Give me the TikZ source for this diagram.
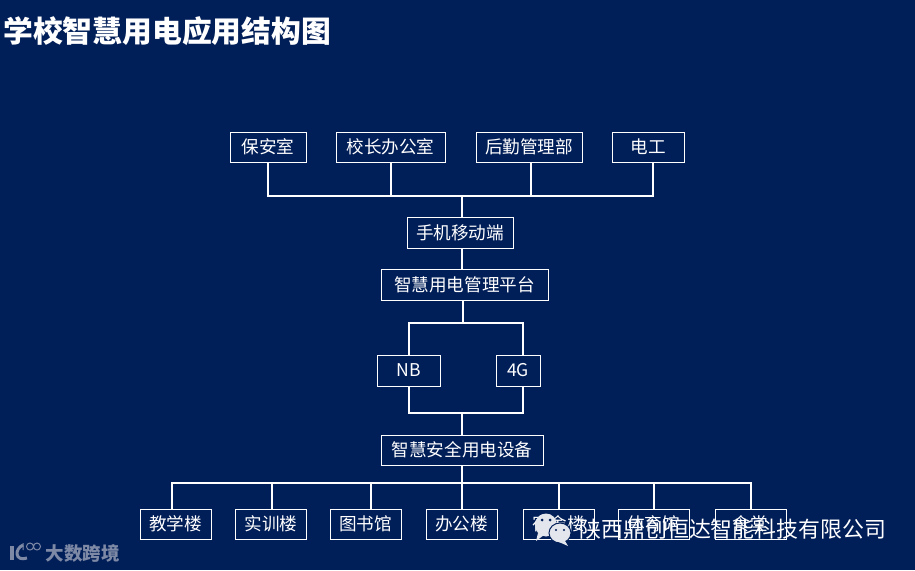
\documentclass[tikz,border=0pt]{standalone}
\usepackage{fontspec}
\usepackage{xcolor}
\usetikzlibrary{positioning,calc}
\setmainfont{Noto Sans CJK SC}
\definecolor{schoolNavy}{RGB}{0,30,88}
\definecolor{markGrey}{RGB}{125,137,165}
\definecolor{bubbleGrey}{RGB}{228,230,238}

\begin{document}
\begin{tikzpicture}[
    x=1pt,
    y=-1pt,
    every node/.style={text=white, font=\fontsize{17.6}{20}\selectfont},
    unitBox/.style={
        rectangle,
        draw=white,
        line width=0.9pt,
        inner sep=0pt,
        minimum height=30pt,
        align=center
    },
    wire/.style={draw=white, line width=1.7pt}
]
    \fill[schoolNavy] (0,0) rectangle (915,570);
    \useasboundingbox (0,0) rectangle (915,570);

    \node[anchor=west, inner sep=0pt, font=\fontsize{29.8}{32}\selectfont\bfseries] (title) at (3,31) {学校智慧用电应用结构图};

    % users
    \node[unitBox, minimum width=76pt] (guard) at (268,147) {保安室};
    \node[unitBox, minimum width=109pt] (head) at (390.5,147) {校长办公室};
    \node[unitBox, minimum width=106pt] (logistics) at (529,147) {后勤管理部};
    \node[unitBox, minimum width=72pt] (electrician) at (648,147) {电工};

    % platform
    \node[unitBox, minimum width=106pt, minimum height=31pt] (mobile) at (460,232.5) {手机移动端};
    \node[unitBox, minimum width=167pt, minimum height=31pt] (platform) at (464.5,284.5) {智慧用电管理平台};
    \node[unitBox, minimum width=63pt, minimum height=31pt] (nb) at (408.5,370.5) {NB};
    \node[unitBox, minimum width=44pt, minimum height=31pt] (fourg) at (518,370.5) {4G};
    \node[unitBox, minimum width=162pt] (device) at (462,450) {智慧安全用电设备};

    % buildings
    \node[unitBox, minimum width=71pt] (teach) at (175.5,524) {教学楼};
    \node[unitBox, minimum width=71pt] (train) at (271,524) {实训楼};
    \node[unitBox, minimum width=71pt] (library) at (365.5,524) {图书馆};
    \node[unitBox, minimum width=71pt] (office) at (461.5,524) {办公楼};
    \node[unitBox, minimum width=71pt] (dorm) at (558.5,524) {宿舍楼};
    \node[unitBox, minimum width=71pt] (gym) at (653.5,524) {体育馆};
    \node[unitBox, minimum width=71pt] (canteen) at (750.5,524) {食堂};

    \coordinate (topBus) at (462,196);
    \coordinate (splitUp) at (463,323);
    \coordinate (splitDown) at (462,413);
    \coordinate (lowBus) at (462,483);

    \draw[wire] (guard.south) |- (topBus);
    \draw[wire] (head.south -| 391,0) |- (topBus);
    \draw[wire] (logistics.south -| 531,0) |- (topBus);
    \draw[wire] (electrician.south -| 653,0) |- (topBus);
    \draw[wire] (topBus) -- (topBus |- mobile.north);
    \draw[wire] (mobile.south -| topBus) -- (platform.north -| topBus);
    \draw[wire] (platform.south -| splitUp) -- (splitUp);
    \draw[wire] (nb.north -| 409,0) |- (splitUp);
    \draw[wire] (fourg.north -| 523,0) |- (splitUp);
    \draw[wire] (nb.south -| 409,0) |- (splitDown);
    \draw[wire] (fourg.south -| 523,0) |- (splitDown);
    \draw[wire] (splitDown) -- (device.north);
    \draw[wire] (device.south) -- (lowBus);
    \draw[wire] (teach.north -| 172,0) |- (lowBus);
    \draw[wire] (train.north -| 272,0) |- (lowBus);
    \draw[wire] (library.north -| 371,0) |- (lowBus);
    \draw[wire] (lowBus) -- (lowBus |- office.north);
    \draw[wire] (dorm.north -| 559,0) |- (lowBus);
    \draw[wire] (gym.north -| 654,0) |- (lowBus);
    \draw[wire] (canteen.north -| 751,0) |- (lowBus);

    % watermarks
    \fill[bubbleGrey] (546,525) ellipse (11pt and 11.5pt);
    \fill[bubbleGrey] (538,533) -- (536,541) -- (544,535) -- cycle;
    \fill[schoolNavy] (542,520) circle (1.5pt) (550,520) circle (1.5pt);
    \filldraw[bubbleGrey, draw=schoolNavy, line width=1pt] (560,533) ellipse (11pt and 10pt);
    \fill[bubbleGrey] (565,541) -- (568,546) -- (559,542) -- cycle;
    \fill[schoolNavy] (556,530) circle (1.2pt) (564,530) circle (1.2pt);
    \node[anchor=west, font=\fontsize{21.9}{24}\selectfont] (company) at (576,529) {陕西鼎创恒达智能科技有限公司};
    \node[anchor=west, text=markGrey, font=\fontsize{18.5}{21}\selectfont\bfseries] (brand) at (42,553) {大数跨境};
    \draw[markGrey, line width=4pt] (12,546) -- (12,560);
    \draw[markGrey, line width=3pt] (23,545) .. controls (14,549) and (15,562) .. (27,558);
    \draw[markGrey, line width=1pt] (23,543) -- (23,550) (30,546.5) circle (3.5pt) (37,546.5) circle (3.5pt);
\end{tikzpicture}
\end{document}
